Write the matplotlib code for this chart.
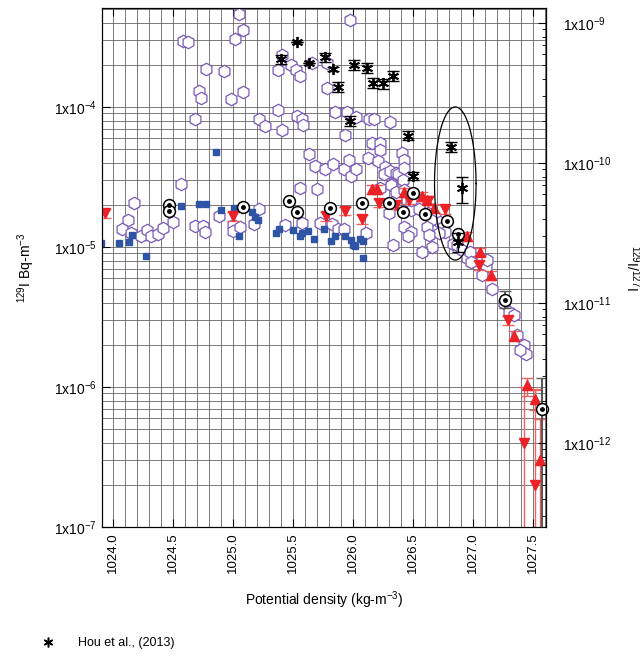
import numpy as np
import matplotlib
matplotlib.use("Agg")
import matplotlib.pyplot as plt
from matplotlib.lines import Line2D
from matplotlib.ticker import MultipleLocator, LogLocator, FuncFormatter, NullFormatter, FormatStrFormatter

plt.rcParams['font.family'] = ['Liberation Sans', 'DejaVu Sans']
plt.rcParams['mathtext.fontset'] = 'custom'
plt.rcParams['mathtext.rm'] = 'Liberation Sans'
plt.rcParams['mathtext.it'] = 'Liberation Sans:italic'

# open hexagons
hex_x = [1025.05, 1025.09, 1025.02, 1024.59, 1024.63, 1024.78, 1024.93, 1024.72, 1024.74, 1025.09, 1024.99, 1024.69,
         1025.98, 1025.41, 1025.49, 1025.38, 1025.53, 1025.56, 1025.66, 1025.79, 1025.79, 1025.38, 1025.22, 1025.27,
         1025.41, 1025.54, 1025.58, 1025.59, 1025.85, 1025.95, 1026.03, 1025.94, 1026.14, 1026.18, 1026.31, 1026.16,
         1026.23, 1026.23,
         1025.64, 1025.69, 1025.77, 1025.84, 1025.93, 1025.97, 1025.99, 1026.03, 1026.13, 1026.21, 1026.27, 1026.26,
         1026.31, 1026.36, 1026.33, 1026.23, 1025.56, 1025.70, 1025.22, 1025.18, 1025.44, 1025.58, 1025.73, 1025.83,
         1025.88, 1025.93, 1026.11, 1026.30, 1026.34,
         1024.57, 1024.18, 1024.13, 1024.08, 1024.15, 1024.24, 1024.29, 1024.32, 1024.38, 1024.42, 1024.50, 1024.69,
         1024.75, 1024.77, 1024.89, 1025.00, 1025.00, 1025.06,
         1026.38, 1026.41, 1026.43, 1026.43, 1026.42, 1026.32, 1026.36, 1026.45, 1026.43, 1026.54, 1026.49, 1026.55,
         1026.63, 1026.69, 1026.73, 1026.75, 1026.77, 1026.72, 1026.65, 1026.62, 1026.64, 1026.66, 1026.58, 1026.43,
         1026.49, 1026.46,
         1026.84, 1026.87, 1026.91, 1026.95, 1027.02, 1027.08, 1026.98, 1027.11, 1026.99, 1027.12, 1027.08, 1027.16,
         1027.26, 1027.30, 1027.34, 1027.37, 1027.43, 1027.44, 1027.39, 1026.49]
hex_y = [4.6e-4, 3.55e-4, 3.05e-4, 2.98e-4, 2.93e-4, 1.87e-4, 1.80e-4, 1.30e-4, 1.17e-4, 1.29e-4, 1.14e-4, 8.2e-5,
         4.2e-4, 2.35e-4, 2.0e-4, 1.83e-4, 1.84e-4, 1.66e-4, 2.05e-4, 2.07e-4, 1.36e-4, 9.5e-5, 8.2e-5, 7.3e-5,
         6.85e-5, 8.6e-5, 8.25e-5, 7.4e-5, 9.25e-5, 9.25e-5, 8.5e-5, 6.3e-5, 8.2e-5, 8.2e-5, 7.8e-5, 5.5e-5,
         5.5e-5, 4.9e-5,
         4.6e-5, 3.8e-5, 3.6e-5, 3.9e-5, 3.6e-5, 4.2e-5, 3.2e-5, 3.6e-5, 4.3e-5, 4.1e-5, 3.75e-5, 3.3e-5,
         3.5e-5, 3.4e-5, 2.8e-5, 2.65e-5, 2.65e-5, 2.58e-5, 1.86e-5, 1.46e-5, 1.44e-5, 1.49e-5, 1.49e-5, 1.46e-5,
         1.34e-5, 1.34e-5, 1.26e-5, 1.74e-5, 1.03e-5,
         2.8e-5, 2.05e-5, 1.56e-5, 1.34e-5, 1.26e-5, 1.2e-5, 1.32e-5, 1.2e-5, 1.24e-5, 1.37e-5, 1.52e-5, 1.42e-5,
         1.42e-5, 1.29e-5, 1.67e-5, 1.44e-5, 1.3e-5, 1.38e-5,
         3.3e-5, 4.7e-5, 4.2e-5, 3.65e-5, 3.0e-5, 2.77e-5, 2.48e-5, 2.17e-5, 2.55e-5, 2.11e-5, 1.84e-5, 1.86e-5,
         1.74e-5, 1.64e-5, 1.52e-5, 1.4e-5, 1.29e-5, 1.25e-5, 1.56e-5, 1.4e-5, 1.22e-5, 1.0e-5, 9.25e-6, 1.4e-5,
         1.29e-5, 1.19e-5,
         1.06e-5, 1.03e-5, 9.5e-6, 8.3e-6, 8.3e-6, 8.07e-6, 9.25e-6, 7.2e-6, 7.85e-6, 8.07e-6, 6.3e-6, 5.0e-6,
         3.96e-6, 3.45e-6, 3.27e-6, 2.35e-6, 2.0e-6, 1.72e-6, 1.84e-6, 2.17e-5]
hex_err = 0.06

# filled squares
sq_x = [1024.86, 1023.90, 1024.05, 1024.14, 1024.16, 1024.28, 1024.57, 1024.72, 1024.78, 1024.90, 1025.01, 1025.05,
        1025.16, 1025.19, 1025.21, 1025.36, 1025.39, 1025.50, 1025.56, 1025.58, 1025.63, 1025.68, 1025.76, 1025.82,
        1025.85, 1025.94, 1025.99, 1026.00, 1026.02, 1026.06, 1026.09, 1026.09]
sq_y = [4.8e-5, 1.07e-5, 1.07e-5, 1.09e-5, 1.22e-5, 8.6e-6, 1.97e-5, 2.04e-5, 2.02e-5, 1.84e-5, 1.91e-5, 1.19e-5,
        1.79e-5, 1.64e-5, 1.56e-5, 1.26e-5, 1.34e-5, 1.32e-5, 1.2e-5, 1.25e-5, 1.31e-5, 1.15e-5, 1.34e-5, 1.11e-5,
        1.2e-5, 1.2e-5, 1.12e-5, 1.03e-5, 1.02e-5, 1.14e-5, 1.11e-5, 8.3e-6]

# red down triangles
dn_x = [1023.94, 1025.00, 1025.78, 1025.94, 1026.08, 1026.22, 1026.36, 1026.47, 1026.63, 1026.77, 1027.05, 1027.29]
dn_y = [1.74e-5, 1.66e-5, 1.66e-5, 1.82e-5, 1.58e-5, 2.07e-5, 2.0e-5, 2.17e-5, 2.14e-5, 1.86e-5, 7.4e-6, 3.0e-6]
dn_tail_x = [1027.43, 1027.52]
dn_tail_y = [4.0e-7, 2.0e-7]
dn_tail_lo = [1e-8, 1e-8]
dn_tail_hi = [1.0e-6, 9.5e-7]

# red up triangles
up_x = [1026.16, 1026.20, 1026.43, 1026.58, 1026.62, 1026.68, 1026.95, 1027.06, 1027.15, 1027.34]
up_y = [2.58e-5, 2.6e-5, 2.46e-5, 2.31e-5, 2.17e-5, 1.89e-5, 1.19e-5, 9.25e-6, 6.3e-6, 2.33e-6]
up_tail_x = [1027.45, 1027.52, 1027.56]
up_tail_y = [1.03e-6, 8.2e-7, 3.0e-7]
up_tail_lo = [8.6e-7, 6.9e-7, 1e-8]
up_tail_hi = [1.16e-6, 9.7e-7, 5.9e-7]
red_err = 0.07

# circled dots
cd_x = [1024.47, 1024.47, 1025.09, 1025.47, 1025.54, 1025.81, 1026.08, 1026.30, 1026.50, 1026.42, 1026.60,
        1026.79, 1026.88]
cd_y = [2.0e-5, 1.81e-5, 1.92e-5, 2.14e-5, 1.77e-5, 1.89e-5, 2.07e-5, 2.07e-5, 2.44e-5, 1.79e-5, 1.71e-5,
        1.53e-5, 1.24e-5]
cd_tail_x = [1027.27, 1027.58]
cd_tail_y = [4.18e-6, 7.0e-7]
cd_tail_lo = [3.67e-6, 1e-8]
cd_tail_hi = [4.85e-6, 1.16e-6]

# Hou et al. (2013), 129I/127I
hou_x = [1025.54, 1025.40, 1025.64, 1025.77, 1025.84, 1026.01, 1026.12, 1026.17, 1026.25, 1026.34, 1025.88,
         1025.98, 1026.46, 1026.50, 1026.82, 1026.91, 1026.88]
hou_y = [7.3e-10, 5.5e-10, 5.2e-10, 5.7e-10, 4.7e-10, 5.0e-10, 4.8e-10, 3.75e-10, 3.7e-10, 4.2e-10, 3.5e-10,
         2.0e-10, 1.57e-10, 8.1e-11, 1.31e-10, 6.6e-11, 2.74e-11]
hou_err = [0.0, 0.07, 0.0, 0.08, 0.04, 0.08, 0.08, 0.08, 0.08, 0.08, 0.08, 0.08, 0.07, 0.07, 0.08, 0.21, 0.15]

purple = '#7a5cb8'
blue = '#2e55a5'
red = '#ec2227'
red_bar = '#f26060'


def log_fmt(v, pos):
    return '1x10$^{%d}$' % int(round(np.log10(v)))


fig = plt.figure(figsize=(6.4, 6.56), dpi=100)
ax = fig.add_axes([0.159, 0.1966, 0.694, 0.7912])
ax.set_yscale('log')
ax.set_xlim(1023.91, 1027.61)
ax.set_ylim(1e-7, 5.1e-4)

ax.xaxis.set_major_locator(MultipleLocator(0.5))
ax.xaxis.set_minor_locator(MultipleLocator(0.1))
ax.xaxis.set_major_formatter(FormatStrFormatter('%.1f'))
ax.yaxis.set_major_locator(LogLocator(10))
ax.yaxis.set_minor_locator(LogLocator(10, subs=np.arange(2, 10)))
ax.yaxis.set_major_formatter(FuncFormatter(log_fmt))
ax.yaxis.set_minor_formatter(NullFormatter())
ax.grid(True, which='both', color='0.35', lw=0.55)
ax.set_axisbelow(True)
ax.tick_params(which='both', direction='in', top=True, right=False, labelsize=10)
ax.tick_params(which='major', length=6)
ax.tick_params(which='minor', length=0)
ax.tick_params(axis='x', labelsize=9.5, labelrotation=90, pad=4)

# hexagons
hy = np.array(hex_y)
ax.errorbar(hex_x, hy, yerr=hy * hex_err, fmt='none', ecolor=purple, elinewidth=0.8, capsize=3.5, zorder=2)
ax.plot(hex_x, hy, 'h', ms=9, mfc='white', mec=purple, mew=0.9, zorder=3)

# squares
ax.plot(sq_x, sq_y, 's', ms=5, color=blue, zorder=4)

# red triangles
dy = np.array(dn_y)
ax.errorbar(dn_x, dy, yerr=dy * red_err, fmt='v', ms=6.5, color=red, ecolor=red_bar,
            elinewidth=1, capsize=4, zorder=5)
tdy = np.array(dn_tail_y)
ax.errorbar(dn_tail_x, tdy, yerr=[tdy - np.array(dn_tail_lo), np.array(dn_tail_hi) - tdy], fmt='v', ms=6.5,
            color=red, ecolor=red_bar, elinewidth=1, capsize=4, zorder=5)
uy = np.array(up_y)
ax.errorbar(up_x, uy, yerr=uy * red_err, fmt='^', ms=6.5, color=red, ecolor=red_bar,
            elinewidth=1, capsize=4, zorder=5)
tuy = np.array(up_tail_y)
ax.errorbar(up_tail_x, tuy, yerr=[tuy - np.array(up_tail_lo), np.array(up_tail_hi) - tuy], fmt='^', ms=6.5,
            color=red, ecolor=red_bar, elinewidth=1, capsize=4, zorder=5)

# circled dots
ax.plot(cd_x, cd_y, 'o', ms=8.5, mfc='white', mec='k', mew=1.1, zorder=6)
ax.plot(cd_x, cd_y, 'o', ms=2.5, color='k', zorder=7)
tcy = np.array(cd_tail_y)
ax.errorbar(cd_tail_x, tcy, yerr=[tcy - np.array(cd_tail_lo), np.array(cd_tail_hi) - tcy], fmt='none',
            ecolor='0.35', elinewidth=1.5, capsize=4, zorder=5)
ax.plot(cd_tail_x, cd_tail_y, 'o', ms=8.5, mfc='white', mec='k', mew=1.1, zorder=6, clip_on=False)
ax.plot(cd_tail_x, cd_tail_y, 'o', ms=2.5, color='k', zorder=7, clip_on=False)

# ellipse around two Hou points (drawn in log space)
t = np.linspace(0, 2 * np.pi, 200)
ax.plot(1026.855 + 0.173 * np.cos(t), 10 ** (-4.546 + 0.547 * np.sin(t)), color='k', lw=0.9, zorder=8)

ax.set_ylabel('$^{129}$I Bq-m$^{-3}$', fontsize=10, labelpad=12)
ax.set_xlabel('Potential density (kg-m$^{-3}$)', fontsize=10, labelpad=12)

# right axis: isotopic ratio
ax2 = ax.twinx()
ax2.set_yscale('log')
ax2.set_ylim(2.51e-13, 1.28e-9)
ax2.yaxis.set_major_locator(LogLocator(10))
ax2.yaxis.set_minor_locator(LogLocator(10, subs=np.arange(2, 10)))
ax2.yaxis.set_major_formatter(FuncFormatter(log_fmt))
ax2.yaxis.set_minor_formatter(NullFormatter())
ax2.tick_params(which='both', direction='in', labelsize=10, pad=12)
ax2.tick_params(which='major', length=6)
ax2.tick_params(which='minor', length=3)
hv = np.array(hou_y)
he = np.array(hou_err)
ax2.errorbar(hou_x, hv, yerr=hv * he, fmt='none', ecolor='k', elinewidth=0.9, capsize=4, zorder=9)
ax2.plot(hou_x, hou_y, ls='none', marker=(6, 2, 0), ms=8, color='k', mew=1.3, zorder=10)
ax2.set_ylabel('$^{129}$I/$^{127}$I', fontsize=10, rotation=270, labelpad=22)

handle = Line2D([], [], ls='none', marker=(6, 2, 0), ms=7, color='k', mew=1.1)
fig.legend([handle], ['Hou et al., (2013)'], loc='center left', bbox_to_anchor=(0.05, 0.02),
           frameon=False, fontsize=9, handlelength=1, handletextpad=1.9, borderaxespad=0.4)

fig.savefig('out.png', dpi=100)
